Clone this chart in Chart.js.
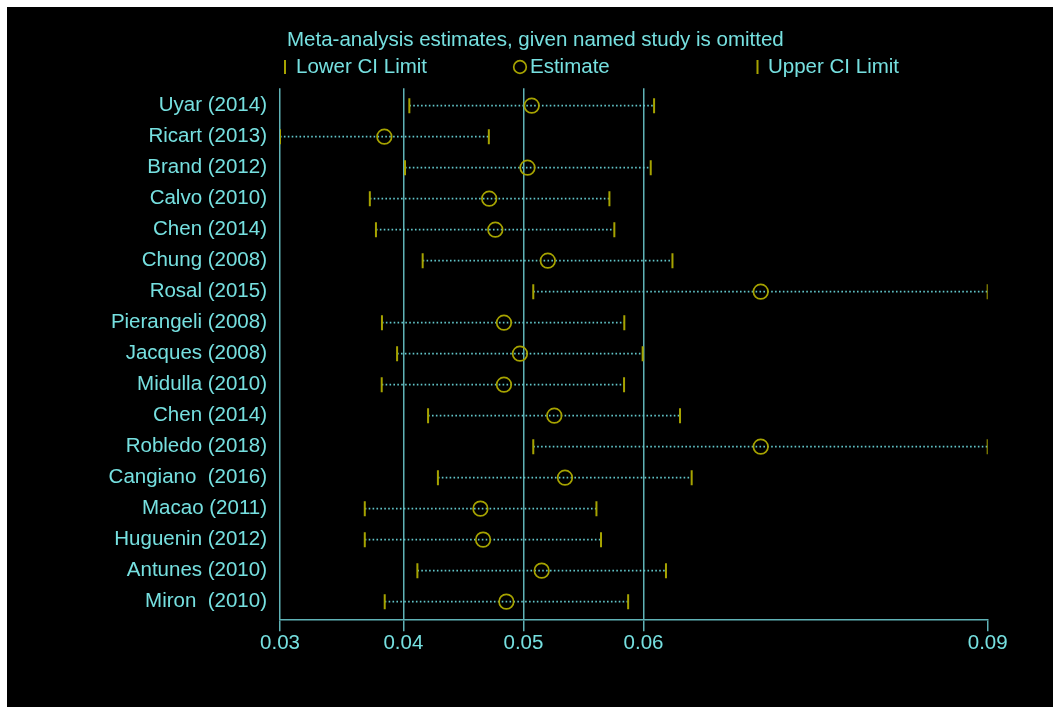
<!DOCTYPE html>
<html><head><meta charset="utf-8">
<script src="https://cdn.jsdelivr.net/npm/chart.js@4"></script>
<style>
html,body{margin:0;padding:0;background:#fff;}
#wrap{position:absolute;left:7px;top:7px;width:1046px;height:700px;background:#000;}
canvas{display:block;}
</style></head><body>
<div id="wrap"><canvas id="c" width="1046" height="700"></canvas></div>
<script>
const studies = ["Uyar (2014)","Ricart (2013)","Brand (2012)","Calvo (2010)","Chen (2014)","Chung (2008)","Rosal (2015)","Pierangeli (2008)","Jacques (2008)","Midulla (2010)","Chen (2014)","Robledo (2018)","Cangiano  (2016)","Macao (2011)","Huguenin (2012)","Antunes (2010)","Miron  (2010)"];
const lowerCI   = [0.0405, 0.02973, 0.04014, 0.03721, 0.03772, 0.04161, 0.05082, 0.03822, 0.03948, 0.0382, 0.04206, 0.05082, 0.04288, 0.03679, 0.03679, 0.04117, 0.03845];
const estimates = [0.05069, 0.03842, 0.05034, 0.04715, 0.04766, 0.05203, 0.06976, 0.04838, 0.04971, 0.04838, 0.05257, 0.06976, 0.05346, 0.04642, 0.04664, 0.05152, 0.04858];
const upperCI   = [0.06088, 0.04712, 0.0606, 0.05716, 0.05757, 0.06241, 0.08866, 0.0584, 0.05993, 0.05838, 0.06304, 0.08866, 0.06401, 0.05608, 0.05646, 0.06187, 0.05872];
const xTickValues = [0.02973, 0.04, 0.05, 0.06, 0.08866];
const xTickLabels = ["0.03", "0.04", "0.05", "0.06", "0.09"];
const titleText = "Meta-analysis estimates, given named study is omitted";
const legendLabels = ["Lower CI Limit", "Estimate", "Upper CI Limit"];

const textColor = "#76e0e0";
const axisColor = "#5fb2b6";
const markColor = "#a6a300";
const dotColor = "#62c6ca";
const FONT = '"Liberation Sans", Arial, sans-serif';
const FS = 20.5;

const datasets = [];
studies.forEach((s, i) => {
  datasets.push({
    type: 'line',
    data: [{x: lowerCI[i], y: i + 1}, {x: upperCI[i], y: i + 1}],
    borderColor: dotColor, borderWidth: 1.8, borderDash: [1.6, 2.3],
    pointRadius: 0, showLine: true, fill: false, order: 10
  });
});
datasets.push({
  label: legendLabels[0],
  data: lowerCI.map((v, i) => ({x: v, y: i + 1})),
  pointStyle: 'line', rotation: 90, pointRadius: 7.5,
  borderColor: markColor, pointBorderColor: markColor, pointBorderWidth: 2, order: 1
});
datasets.push({
  label: legendLabels[1],
  data: estimates.map((v, i) => ({x: v, y: i + 1})),
  pointStyle: 'circle', pointRadius: 7.3,
  pointBackgroundColor: 'rgba(0,0,0,0)', pointBorderColor: markColor, pointBorderWidth: 1.7, order: 1
});
datasets.push({
  label: legendLabels[2],
  data: upperCI.map((v, i) => ({x: v, y: i + 1})),
  pointStyle: 'line', rotation: 90, pointRadius: 7.5,
  borderColor: markColor, pointBorderColor: markColor, pointBorderWidth: 2, order: 1
});

const headerPlugin = {
  id: 'header',
  afterDraw(chart) {
    const ctx = chart.ctx;
    ctx.save();
    ctx.font = FS + 'px ' + FONT;
    ctx.fillStyle = textColor;
    ctx.textBaseline = 'middle';
    ctx.textAlign = 'left';
    ctx.fillText(titleText, 280, 33);
    const ly = 60;
    ctx.strokeStyle = markColor;
    ctx.lineWidth = 2;
    ctx.beginPath(); ctx.moveTo(278, ly - 7); ctx.lineTo(278, ly + 7); ctx.stroke();
    ctx.fillText(legendLabels[0], 289, ly);
    ctx.lineWidth = 1.7;
    ctx.beginPath(); ctx.arc(513, ly, 6.3, 0, Math.PI * 2); ctx.stroke();
    ctx.fillText(legendLabels[1], 523, ly);
    ctx.lineWidth = 2;
    ctx.beginPath(); ctx.moveTo(750.5, ly - 7); ctx.lineTo(750.5, ly + 7); ctx.stroke();
    ctx.fillText(legendLabels[2], 761, ly);
    ctx.restore();
  }
};

new Chart(document.getElementById('c'), {
  type: 'scatter',
  data: { datasets },
  plugins: [headerPlugin],
  options: {
    responsive: false,
    animation: false,
    layout: { padding: { top: 81.3, right: 65.3, bottom: 0, left: 0 } },
    plugins: { legend: { display: false }, tooltip: { enabled: false }, title: { display: false } },
    scales: {
      x: {
        type: 'linear',
        min: xTickValues[0], max: xTickValues[xTickValues.length - 1],
        afterBuildTicks: (scale) => { scale.ticks = xTickValues.map(v => ({value: v})); },
        afterFit: (scale) => { scale.height = 87.7; },
        ticks: {
          callback: (val, idx) => xTickLabels[idx],
          color: textColor, font: { family: FONT, size: FS }, padding: 0,
          maxRotation: 0, autoSkip: false
        },
        grid: {
          color: (ctx) => (ctx.tick && ctx.tick.value === xTickValues[xTickValues.length - 1]) ? 'rgba(0,0,0,0)' : axisColor,
          tickColor: axisColor, lineWidth: 1.5, tickLength: 12, drawTicks: true
        },
        border: { display: true, color: axisColor, width: 1.5 }
      },
      y: {
        type: 'linear', reverse: true,
        min: 0.44, max: 17.57,
        afterBuildTicks: (scale) => { scale.ticks = studies.map((s, i) => ({value: i + 1})); },
        afterFit: (scale) => { scale.width = 273; },
        ticks: {
          callback: (val, idx) => studies[idx],
          color: textColor, font: { family: FONT, size: FS }, padding: 13, autoSkip: false
        },
        grid: { display: false, drawTicks: false },
        border: { display: false }
      }
    }
  }
});
</script>
</body></html>
